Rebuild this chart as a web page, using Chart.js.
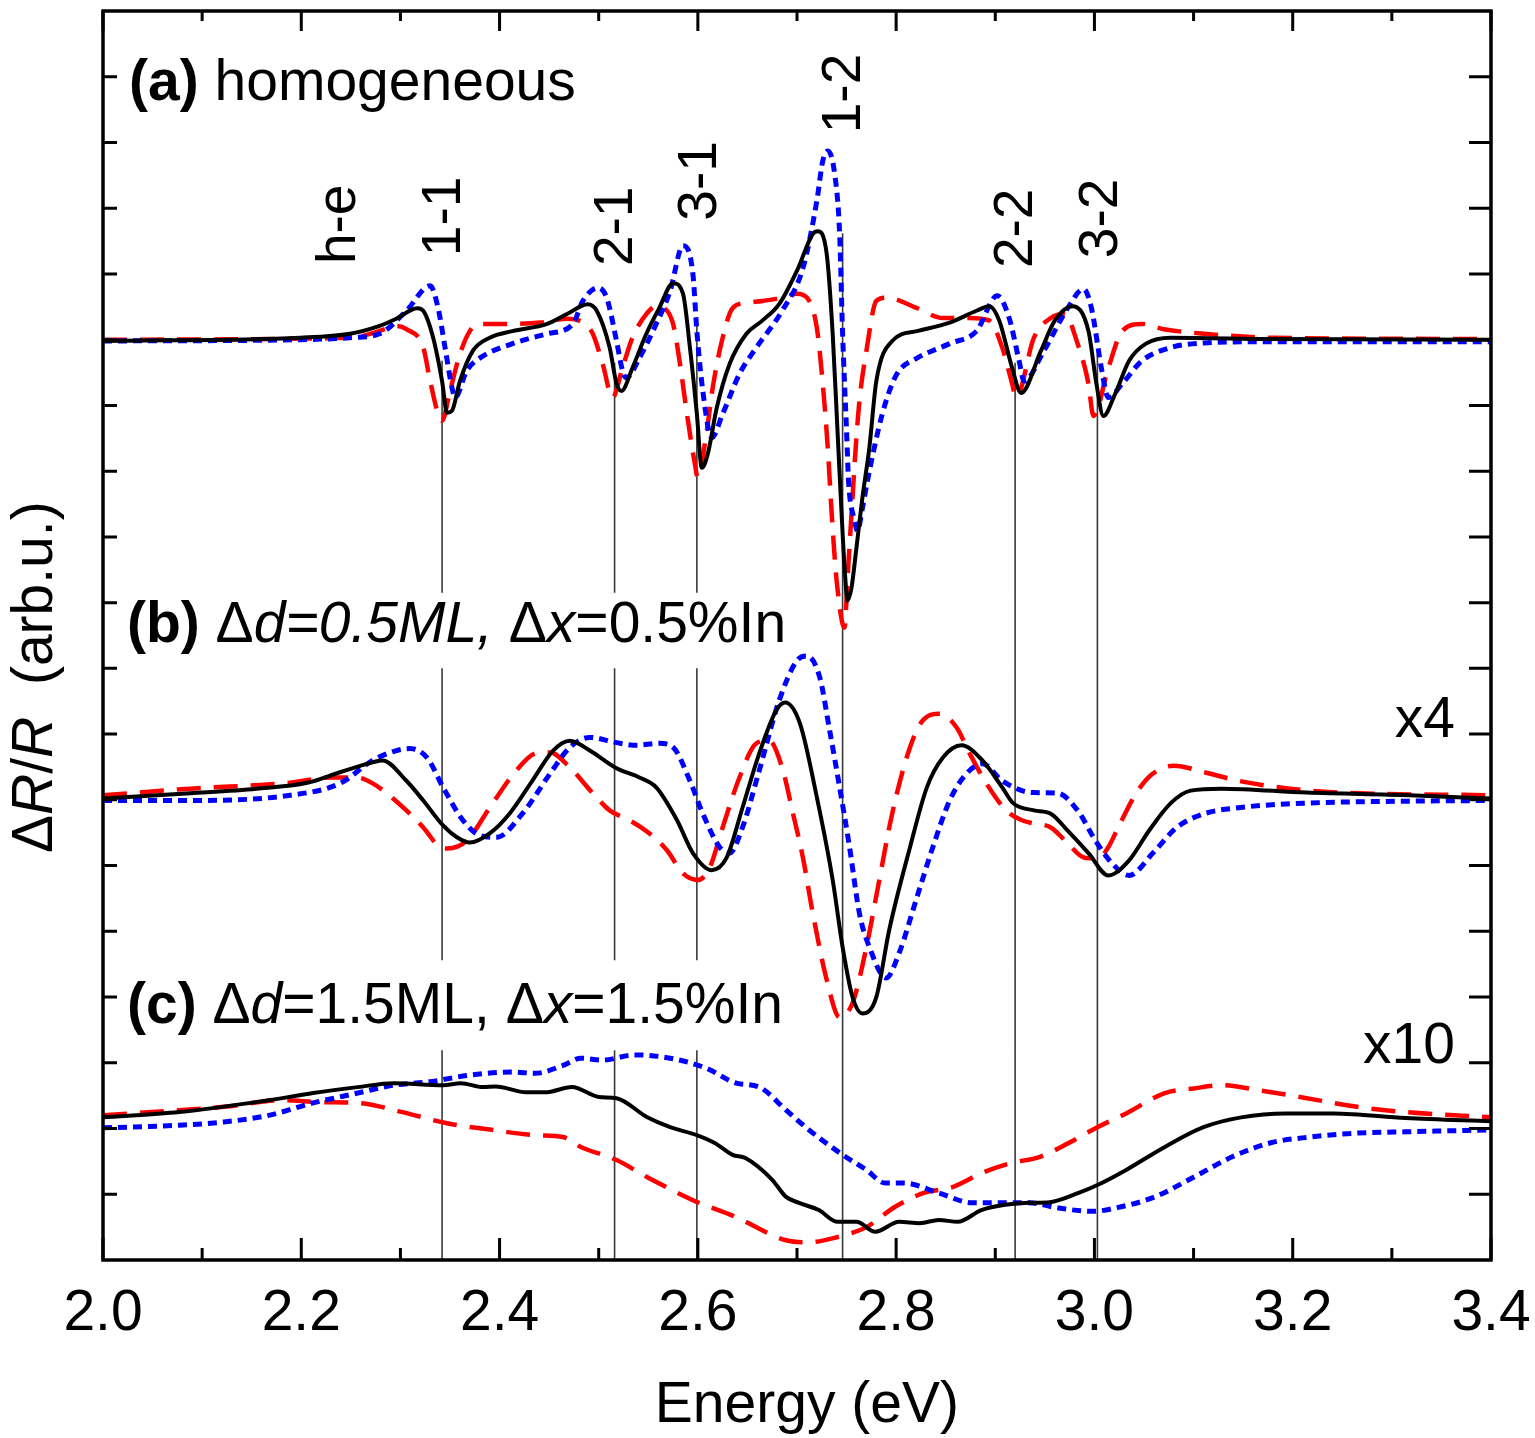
<!DOCTYPE html>
<html>
<head>
<meta charset="utf-8">
<title>dR/R spectra</title>
<script src="https://cdn.jsdelivr.net/npm/chart.js@4.4.1/dist/chart.umd.min.js"></script>
<style>
  html, body { margin: 0; padding: 0; background: #fff; }
  #grafica { display: block; }
</style>
</head>
<body>
<canvas id="grafica" width="1535" height="1438"></canvas>
<script>
// --- Datos: [energía (eV), ΔR/R desplazado (unidades del eje)] ---

// (a) homogeneous
const aSolid = [[2.000,13.98],[2.199,14.03],[2.249,14.09],[2.279,14.21],[2.296,14.32],[2.317,14.48],[2.323,14.44],[2.333,14.03],[2.342,13.37],[2.347,12.89],[2.352,12.92],[2.360,13.37],[2.373,13.83],[2.390,14.03],[2.413,14.13],[2.448,14.24],[2.468,14.39],[2.489,14.54],[2.498,14.44],[2.511,13.88],[2.518,13.33],[2.523,13.22],[2.534,13.57],[2.548,14.09],[2.561,14.48],[2.575,14.86],[2.585,14.70],[2.592,13.88],[2.599,12.87],[2.604,12.05],[2.610,12.26],[2.619,12.96],[2.632,13.63],[2.649,14.09],[2.665,14.29],[2.682,14.54],[2.700,15.05],[2.716,15.61],[2.721,15.65],[2.730,15.30],[2.736,14.09],[2.741,12.57],[2.745,11.35],[2.748,10.53],[2.751,10.03],[2.755,10.23],[2.760,10.84],[2.766,11.60],[2.773,12.36],[2.780,13.37],[2.796,13.98],[2.821,14.13],[2.854,14.26],[2.881,14.44],[2.894,14.51],[2.904,14.29],[2.917,13.57],[2.926,13.19],[2.946,13.83],[2.960,14.29],[2.978,14.51],[2.994,14.13],[3.002,13.33],[3.009,12.84],[3.021,13.18],[3.035,13.68],[3.052,13.94],[3.077,14.03],[3.179,14.01],[3.400,14.00]];
const aDot = [[2.000,13.98],[2.199,14.00],[2.249,14.03],[2.279,14.09],[2.306,14.44],[2.330,14.82],[2.338,14.48],[2.345,13.88],[2.352,13.27],[2.355,13.12],[2.367,13.53],[2.380,13.72],[2.413,13.94],[2.448,14.09],[2.474,14.24],[2.484,14.59],[2.499,14.79],[2.508,14.64],[2.518,13.98],[2.524,13.53],[2.528,13.42],[2.541,13.72],[2.558,14.24],[2.572,14.74],[2.585,15.43],[2.595,15.00],[2.599,14.13],[2.605,13.22],[2.614,12.51],[2.625,12.87],[2.642,13.48],[2.659,13.88],[2.685,14.44],[2.706,15.09],[2.720,16.11],[2.726,16.72],[2.731,16.87],[2.738,16.52],[2.743,15.61],[2.746,14.09],[2.750,12.61],[2.752,11.85],[2.758,11.25],[2.761,11.09],[2.766,11.44],[2.771,11.85],[2.778,12.36],[2.786,12.87],[2.796,13.33],[2.803,13.53],[2.821,13.72],[2.854,13.94],[2.881,14.13],[2.902,14.67],[2.914,14.33],[2.924,13.68],[2.929,13.37],[2.949,13.83],[2.973,14.48],[2.989,14.77],[2.997,14.48],[3.007,13.57],[3.014,13.12],[3.028,13.33],[3.048,13.68],[3.077,13.88],[3.111,13.95],[3.179,13.97],[3.400,13.97]];
const aDash = [[2.000,14.00],[2.249,14.03],[2.289,14.18],[2.296,14.21],[2.306,14.16],[2.323,13.88],[2.330,13.37],[2.338,12.87],[2.342,12.77],[2.350,13.22],[2.360,13.78],[2.370,14.13],[2.380,14.24],[2.407,14.24],[2.441,14.26],[2.468,14.32],[2.484,14.26],[2.494,14.09],[2.504,13.63],[2.514,13.12],[2.524,13.57],[2.534,14.03],[2.548,14.39],[2.558,14.51],[2.566,14.48],[2.575,14.24],[2.582,13.63],[2.589,12.87],[2.597,12.11],[2.600,11.90],[2.609,12.61],[2.615,13.27],[2.625,14.03],[2.635,14.48],[2.649,14.56],[2.665,14.59],[2.685,14.64],[2.700,14.70],[2.710,14.64],[2.720,14.18],[2.726,13.33],[2.731,12.36],[2.735,11.35],[2.740,10.33],[2.748,9.62],[2.751,10.38],[2.755,11.35],[2.759,12.31],[2.763,13.07],[2.770,13.83],[2.780,14.59],[2.790,14.64],[2.821,14.48],[2.847,14.33],[2.874,14.33],[2.894,14.29],[2.907,13.88],[2.917,13.33],[2.921,13.12],[2.939,14.03],[2.956,14.33],[2.970,14.39],[2.983,13.94],[2.994,13.33],[2.999,12.84],[3.014,13.57],[3.028,14.13],[3.048,14.24],[3.070,14.16],[3.111,14.09],[3.179,14.03],[3.400,14.01]];

// (b) Δd=0.5ML, Δx=0.5%In  (x4)
const bSolid = [[2.000,7.02],[2.088,7.10],[2.155,7.17],[2.206,7.26],[2.239,7.42],[2.272,7.57],[2.282,7.60],[2.306,7.29],[2.323,6.99],[2.343,6.61],[2.357,6.43],[2.370,6.35],[2.390,6.49],[2.410,6.79],[2.433,7.29],[2.454,7.75],[2.471,7.90],[2.491,7.75],[2.518,7.48],[2.541,7.34],[2.558,7.19],[2.579,6.69],[2.595,6.19],[2.614,5.93],[2.629,6.12],[2.645,6.88],[2.662,7.71],[2.679,8.36],[2.688,8.48],[2.703,8.16],[2.720,7.04],[2.736,5.78],[2.746,4.76],[2.756,4.00],[2.766,3.75],[2.780,4.00],[2.793,5.02],[2.814,6.28],[2.831,7.19],[2.847,7.64],[2.866,7.83],[2.887,7.60],[2.907,7.19],[2.918,6.95],[2.939,6.84],[2.956,6.79],[2.973,6.53],[2.994,6.19],[3.014,5.85],[3.035,6.08],[3.055,6.53],[3.077,6.95],[3.097,7.14],[3.128,7.17],[3.214,7.11],[3.318,7.07],[3.400,7.02]];
const bDot = [[2.000,6.99],[2.088,6.99],[2.189,7.07],[2.239,7.25],[2.272,7.60],[2.296,7.75],[2.309,7.78],[2.327,7.64],[2.343,7.19],[2.363,6.69],[2.380,6.46],[2.397,6.43],[2.423,6.79],[2.451,7.40],[2.471,7.80],[2.491,7.95],[2.518,7.87],[2.538,7.83],[2.561,7.86],[2.575,7.80],[2.592,7.29],[2.605,6.79],[2.622,6.28],[2.632,6.19],[2.645,6.58],[2.662,7.45],[2.682,8.51],[2.700,9.12],[2.710,9.19],[2.723,8.86],[2.733,8.05],[2.743,7.19],[2.753,6.28],[2.763,5.27],[2.773,4.76],[2.790,4.29],[2.803,4.67],[2.821,5.52],[2.837,6.28],[2.854,6.99],[2.871,7.40],[2.887,7.55],[2.907,7.29],[2.927,7.14],[2.939,7.11],[2.963,7.10],[2.983,6.84],[3.001,6.38],[3.018,6.03],[3.035,5.85],[3.059,6.19],[3.083,6.58],[3.111,6.79],[3.145,6.88],[3.214,6.95],[3.318,6.98],[3.400,6.99]];
const bDash = [[2.000,7.07],[2.088,7.17],[2.189,7.26],[2.229,7.34],[2.256,7.34],[2.272,7.25],[2.306,6.84],[2.323,6.58],[2.340,6.28],[2.347,6.26],[2.367,6.38],[2.390,6.88],[2.417,7.45],[2.437,7.71],[2.451,7.72],[2.471,7.49],[2.494,7.10],[2.511,6.84],[2.531,6.69],[2.551,6.49],[2.569,6.23],[2.585,5.88],[2.600,5.78],[2.612,5.97],[2.625,6.58],[2.642,7.34],[2.659,7.86],[2.672,7.90],[2.685,7.49],[2.696,6.79],[2.706,6.12],[2.716,5.27],[2.730,4.26],[2.743,3.69],[2.756,3.91],[2.770,4.76],[2.783,5.78],[2.796,6.79],[2.814,7.80],[2.827,8.21],[2.844,8.31],[2.861,8.10],[2.874,7.71],[2.891,7.25],[2.911,6.84],[2.927,6.69],[2.939,6.64],[2.956,6.58],[2.973,6.34],[2.990,6.12],[3.004,6.11],[3.014,6.28],[3.024,6.58],[3.042,7.10],[3.059,7.40],[3.080,7.52],[3.111,7.42],[3.145,7.29],[3.197,7.17],[3.248,7.11],[3.400,7.07]];

// (c) Δd=1.5ML, Δx=1.5%In  (x10)
const cSolid = [[2.000,2.17],[2.077,2.25],[2.167,2.43],[2.212,2.54],[2.257,2.63],[2.293,2.69],[2.343,2.66],[2.361,2.69],[2.383,2.63],[2.396,2.64],[2.427,2.55],[2.446,2.55],[2.473,2.63],[2.500,2.48],[2.518,2.46],[2.549,2.17],[2.572,2.02],[2.599,1.90],[2.617,1.78],[2.635,1.60],[2.648,1.55],[2.675,1.22],[2.689,0.96],[2.702,0.87],[2.722,0.76],[2.741,0.58],[2.760,0.58],[2.779,0.43],[2.803,0.58],[2.824,0.56],[2.843,0.61],[2.862,0.58],[2.886,0.76],[2.910,0.84],[2.934,0.87],[2.955,0.88],[2.984,1.02],[3.003,1.14],[3.032,1.37],[3.071,1.72],[3.110,2.02],[3.148,2.17],[3.193,2.23],[3.241,2.23],[3.314,2.16],[3.400,2.11]];
const cDot = [[2.000,2.01],[2.077,2.05],[2.122,2.10],[2.167,2.20],[2.212,2.39],[2.257,2.54],[2.293,2.66],[2.329,2.71],[2.369,2.81],[2.414,2.86],[2.436,2.84],[2.464,2.96],[2.482,3.07],[2.504,3.04],[2.536,3.12],[2.572,3.07],[2.608,2.92],[2.639,2.69],[2.662,2.63],[2.689,2.28],[2.712,1.98],[2.746,1.60],[2.770,1.37],[2.789,1.17],[2.808,1.17],[2.843,1.02],[2.877,0.87],[2.905,0.87],[2.934,0.87],[2.964,0.79],[2.998,0.74],[3.027,0.81],[3.061,0.96],[3.100,1.26],[3.139,1.57],[3.177,1.78],[3.217,1.87],[3.265,1.93],[3.314,1.95],[3.400,1.98]];
const cDash = [[2.000,2.20],[2.077,2.28],[2.122,2.33],[2.180,2.43],[2.221,2.40],[2.257,2.39],[2.302,2.25],[2.347,2.08],[2.392,1.98],[2.436,1.90],[2.464,1.87],[2.482,1.72],[2.518,1.52],[2.549,1.26],[2.595,0.91],[2.639,0.65],[2.689,0.30],[2.712,0.27],[2.741,0.35],[2.770,0.50],[2.799,0.81],[2.828,1.02],[2.857,1.11],[2.886,1.32],[2.915,1.47],[2.945,1.57],[2.974,1.78],[3.003,2.02],[3.032,2.23],[3.071,2.54],[3.100,2.61],[3.129,2.66],[3.167,2.58],[3.207,2.48],[3.265,2.33],[3.314,2.25],[3.400,2.17]];

// Transiciones (líneas verticales)
const transNames = ['1-1', '2-1', '3-1', '1-2', '2-2', '3-2'];
const transE = [2.342, 2.516, 2.599, 2.746, 2.920, 3.003];
const transTop = [13.68, 13.65, 14.33, 15.62, 13.65, 13.78];
const transBroken = [true, true, true, false, false, false]; // cortadas por los rótulos (b) y (c)

// Etiquetas de pico (rotadas)
const peakNames = ['h-e', '1-1', '2-1', '3-1', '1-2', '2-2', '3-2'];

// Ejes
const xTicks = [2.0, 2.2, 2.4, 2.6, 2.8, 3.0, 3.2, 3.4];
const xMinor = [2.1, 2.3, 2.5, 2.7, 2.9, 3.1, 3.3];
const yTicks = [1, 2, 3, 4, 5, 6, 7, 8, 9, 10, 11, 12, 13, 14, 15, 16, 17, 18];

const FAM = '"Liberation Sans", Arial, Helvetica, sans-serif';

function pts(arr) { return arr.map(p => ({ x: p[0], y: p[1] })); }

// segmentos verticales separados por null
function transSegments() {
    const out = [];
    transE.forEach((e, i) => {
        if (transBroken[i]) {
            out.push({ x: e, y: transTop[i] }, { x: e, y: 10.15 }, { x: e, y: null });
            out.push({ x: e, y: 9.0 }, { x: e, y: 4.56 }, { x: e, y: null });
            out.push({ x: e, y: 3.19 }, { x: e, y: 0 }, { x: e, y: null });
        } else {
            out.push({ x: e, y: transTop[i] }, { x: e, y: 0 }, { x: e, y: null });
        }
    });
    return out;
}

function drawRuns(ctx, runs, x, y, size) {
    runs.forEach(r => {
        ctx.font = `${r[1]} ${size}px ${FAM}`;
        ctx.fillText(r[0], x, y);
        x += ctx.measureText(r[0]).width;
    });
}

const marcoPlugin = {
    id: 'marco',
    afterDraw(chart) {
        const ctx = chart.ctx;
        const a = chart.chartArea;
        const xs = chart.scales.x, ys = chart.scales.y;
        ctx.save();
        ctx.strokeStyle = '#000';
        ctx.fillStyle = '#000';

        // ticks hacia dentro
        ctx.lineWidth = 3;
        ctx.beginPath();
        xTicks.forEach(v => {
            const px = xs.getPixelForValue(v);
            ctx.moveTo(px, a.bottom); ctx.lineTo(px, a.bottom - 22);
            ctx.moveTo(px, a.top); ctx.lineTo(px, a.top + 20);
        });
        xMinor.forEach(v => {
            const px = xs.getPixelForValue(v);
            ctx.moveTo(px, a.bottom); ctx.lineTo(px, a.bottom - 12);
            ctx.moveTo(px, a.top); ctx.lineTo(px, a.top + 10);
        });
        yTicks.forEach(v => {
            const py = ys.getPixelForValue(v);
            ctx.moveTo(a.left, py); ctx.lineTo(a.left + 14, py);
            ctx.moveTo(a.right, py); ctx.lineTo(a.right - 22, py);
        });
        ctx.stroke();

        // marco
        ctx.lineWidth = 3.5;
        ctx.strokeRect(a.left, a.top, a.right - a.left, a.bottom - a.top);

        // etiquetas eje x
        ctx.textAlign = 'center';
        ctx.textBaseline = 'alphabetic';
        ctx.font = `57px ${FAM}`;
        xTicks.forEach(v => ctx.fillText(v.toFixed(1), xs.getPixelForValue(v), 1330));
        ctx.fillText('Energy (eV)', xs.getPixelForValue(2.71), 1422);

        // título eje y
        ctx.save();
        ctx.translate(52, 853);
        ctx.rotate(-Math.PI / 2);
        ctx.textAlign = 'left';
        drawRuns(ctx, [['\u0394', 'normal'], ['R', 'italic'], ['/', 'normal'], ['R', 'italic'], ['  (arb.u.)', 'normal']], 0, 0, 57);
        ctx.restore();

        // rótulos de panel
        ctx.textAlign = 'left';
        drawRuns(ctx, [['(a)', 'bold'], [' homogeneous', 'normal']], 129, 100, 57);
        drawRuns(ctx, [['(b)', 'bold'], [' \u0394', 'normal'], ['d=0.5ML,', 'italic'], [' \u0394', 'normal'], ['x', 'italic'], ['=0.5%In', 'normal']], 127, 642, 57);
        drawRuns(ctx, [['(c)', 'bold'], [' \u0394', 'normal'], ['d', 'italic'], ['=1.5ML, \u0394', 'normal'], ['x', 'italic'], ['=1.5%In', 'normal']], 127, 1023, 57);

        ctx.textAlign = 'right';
        ctx.font = `57px ${FAM}`;
        ctx.fillText('x4', 1455, 737);
        ctx.fillText('x10', 1455, 1063);

        // etiquetas de transición rotadas
        const labE = [2.254, 2.360, 2.534, 2.618, 2.764, 2.9375, 3.023];
        const labV = [15.15, 15.27, 15.12, 15.81, 17.14, 15.09, 15.24];
        ctx.font = `55px ${FAM}`;
        ctx.textAlign = 'left';
        peakNames.forEach((t, i) => {
            ctx.save();
            ctx.translate(xs.getPixelForValue(labE[i]), ys.getPixelForValue(labV[i]));
            ctx.rotate(-Math.PI / 2);
            ctx.fillText(t, 0, 0);
            ctx.restore();
        });
        ctx.restore();
    }
};

const linea = (data, color, width, dash) => ({
    data: pts(data),
    borderColor: color,
    borderWidth: width,
    borderDash: dash,
    pointRadius: 0,
    showLine: true,
    fill: false,
    cubicInterpolationMode: 'monotone'
});

const sets = [
    Object.assign(linea(aSolid, '#000000', 4, []), { order: 1 }),
    Object.assign(linea(bSolid, '#000000', 4, []), { order: 1 }),
    Object.assign(linea(cSolid, '#000000', 4, []), { order: 1 }),
    Object.assign(linea(aDot, '#0000ff', 5, [9, 6]), { order: 2 }),
    Object.assign(linea(bDot, '#0000ff', 5, [9, 6]), { order: 2 }),
    Object.assign(linea(cDot, '#0000ff', 5, [9, 6]), { order: 2 }),
    Object.assign(linea(aDash, '#ff0000', 4.5, [24, 13]), { order: 3 }),
    Object.assign(linea(bDash, '#ff0000', 4.5, [24, 13]), { order: 3 }),
    Object.assign(linea(cDash, '#ff0000', 4.5, [24, 13]), { order: 3 }),
    {
        data: transSegments(),
        borderColor: '#3a3a3a',
        borderWidth: 1.6,
        pointRadius: 0,
        showLine: true,
        spanGaps: false,
        tension: 0,
        order: 4
    }
];

new Chart(document.getElementById('grafica').getContext('2d'), {
    type: 'scatter',
    data: { datasets: sets },
    options: {
        responsive: false,
        animation: false,
        devicePixelRatio: 1,
        layout: { padding: { left: 103, right: 44, top: 11, bottom: 178 } },
        plugins: { legend: { display: false }, tooltip: { enabled: false } },
        scales: {
            x: { type: 'linear', min: 2.0, max: 3.4, display: false },
            y: { type: 'linear', min: 0, max: 19, display: false }
        }
    },
    plugins: [marcoPlugin]
});
</script>
</body>
</html>
